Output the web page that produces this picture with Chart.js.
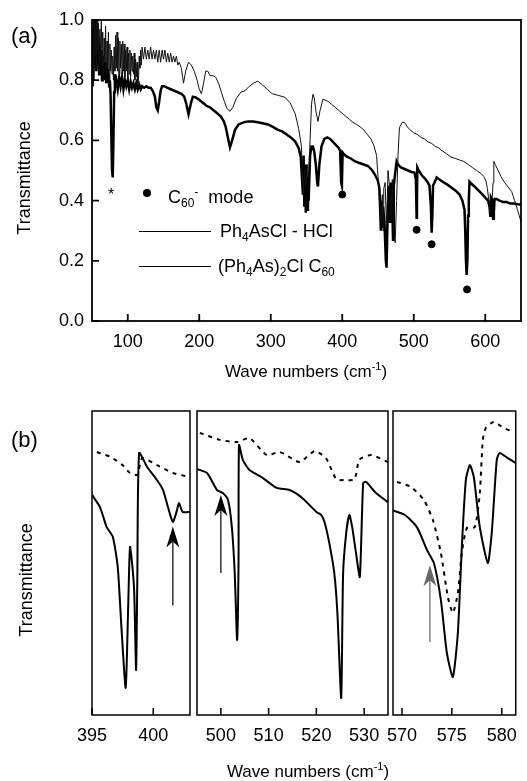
<!DOCTYPE html>
<html>
<head>
<meta charset="utf-8">
<script src="https://cdn.jsdelivr.net/npm/chart.js@4.4.0/dist/chart.umd.min.js"></script>
<style>
body { margin: 0; background: #fff; font-family: "Liberation Sans", Arial, sans-serif; }
#wrap { position: relative; width: 527px; height: 781px; overflow: hidden; }
canvas { position: absolute; left: 0; }
.t { position: absolute; white-space: nowrap; color: #000; line-height: 18px; }
.t sub { font-size: 12px; vertical-align: -4px; line-height: 0; }
.t sup { font-size: 12px; vertical-align: 7px; line-height: 0; }
.rot { position: absolute; white-space: nowrap; font-size: 18px; transform: translate(-50%, -50%) rotate(-90deg); }
.ctr { position: absolute; white-space: nowrap; font-size: 17px; transform: translate(-50%, -50%); }
.ctr sup { font-size: 11px; vertical-align: 7px; line-height: 0; }
.lg { position: absolute; height: 1px; background: #000; }
.dot { position: absolute; width: 8px; height: 8px; border-radius: 4px; background: #000; }
</style>
</head>
<body>
<div id="wrap">
  <canvas id="top" width="527" height="400" style="top:0"></canvas>
  <canvas id="p1" width="527" height="381" style="top:400px"></canvas>
  <canvas id="p2" width="527" height="381" style="top:400px"></canvas>
  <canvas id="p3" width="527" height="381" style="top:400px"></canvas>

  <div class="t" style="left:11px;top:25px;font-size:22px;line-height:22px">(a)</div>
  <div class="t" style="left:11px;top:429px;font-size:22px;line-height:22px">(b)</div>
  <div class="rot" style="left:24px;top:178px">Transmittance</div>
  <div class="rot" style="left:26px;top:580px">Transmittance</div>
  <div class="ctr" style="left:306px;top:372px">Wave numbers (cm<sup>-1</sup>)</div>
  <div class="ctr" style="left:308px;top:772px">Wave numbers (cm<sup>-1</sup>)</div>

  <div class="t" style="left:108px;top:186px;font-size:16px">*</div>
  <div class="dot" style="left:143px;top:189px"></div>
  <div class="t" style="left:168px;top:188px;font-size:18px">C<sub>60</sub><sup>-</sup>&nbsp;&nbsp;mode</div>
  <div class="lg" style="left:139px;top:231px;width:72px"></div>
  <div class="t" style="left:220px;top:222px;font-size:18px">Ph<sub>4</sub>AsCl - HCl</div>
  <div class="lg" style="left:139px;top:266px;width:72px"></div>
  <div class="t" style="left:218px;top:257px;font-size:18px">(Ph<sub>4</sub>As)<sub>2</sub>Cl C<sub>60</sub></div>
</div>

<script>
// panel (a) axes
var topTicksX = [100, 200, 300, 400, 500, 600];
var topTicksY = [0, 0.2, 0.4, 0.6, 0.8, 1.0];

// Ph4AsCl - HCl (thin line), [wave number, transmittance]
var hclSpectrum = [
  [50,0.86],[51,0.97],[52,0.78],[53,1.0],[54,0.88],[55,0.98],[56,0.84],[57,1.0],[58,0.9],[59,0.99],
  [60,0.83],[61,0.97],[62,0.87],[63,1.0],[64,0.85],[65,0.96],[66,0.8],[67,0.94],[68,0.86],[69,0.98],
  [70,0.82],[71,0.93],[72,0.84],[73,0.96],[74,0.8],[75,0.92],[76,0.83],[77,0.9],[78,0.82],[79,0.88],
  [80,0.8],[81,0.91],[82,0.83],[83,0.95],[84,0.84],[85,0.96],[86,0.83],[87,0.94],[88,0.82],[89,0.93],
  [90,0.84],[91,0.92],[92,0.82],[93,0.93],[94,0.83],[95,0.92],[96,0.81],[97,0.9],[98,0.83],[99,0.91],
  [100,0.8],[101,0.89],[102,0.82],[103,0.9],[104,0.81],[105,0.89],[106,0.83],[107,0.88],[108,0.82],[109,0.89],
  [110,0.8],[111,0.87],[112,0.81],[113,0.86],[114,0.79],[115,0.8],[116,0.88],[117,0.84],[118,0.9],[119,0.85],
  [120,0.91],[122,0.87],[124,0.91],[126,0.87],[128,0.9],[130,0.87],[132,0.91],[134,0.87],[136,0.9],[138,0.87],
  [140,0.9],[142,0.86],[144,0.9],[146,0.86],[148,0.9],[150,0.87],[152,0.9],[154,0.86],[156,0.89],[158,0.86],
  [160,0.89],[162,0.86],[164,0.88],[166,0.86],[168,0.88],[170,0.85],[172,0.86],[175,0.84],[178,0.79],[181,0.83],
  [185,0.86],[189,0.85],[193,0.83],[197,0.8],[200,0.77],[203,0.755],[206,0.79],[209,0.83],[212,0.83],[215,0.815],
  [219,0.815],[223,0.81],[227,0.79],[231,0.76],[235,0.73],[239,0.705],[243,0.697],[247,0.71],[252,0.74],[258,0.76],
  [264,0.765],[270,0.78],[276,0.79],[282,0.797],[288,0.785],[295,0.77],[302,0.755],[310,0.75],[320,0.743],[327,0.725],
  [334,0.69],[339,0.64],[343,0.58],[345,0.42],[347,0.5],[349,0.45],[351,0.52],[353,0.48],[355,0.6],[357,0.72],
  [359,0.753],[361,0.74],[363,0.7],[366,0.663],[369,0.7],[373,0.737],[380,0.73],[385,0.72],[390,0.71],[395,0.7],
  [400,0.69],[405,0.68],[410,0.67],[415,0.66],[420,0.653],[425,0.645],[430,0.635],[435,0.62],[440,0.605],[444,0.585],
  [448,0.55],[450,0.48],[452,0.4],[454,0.33],[456,0.42],[457,0.3],[458,0.44],[460,0.46],[462,0.3],[464,0.5],
  [466,0.45],[468,0.35],[470,0.47],[472,0.3],[474,0.26],[476,0.4],[478,0.55],[480,0.643],[484,0.66],[487,0.66],
  [491,0.645],[495,0.635],[500,0.625],[505,0.62],[510,0.61],[515,0.605],[520,0.595],[525,0.59],[530,0.58],[535,0.575],
  [540,0.565],[546,0.555],[552,0.545],[558,0.54],[564,0.535],[570,0.53],[576,0.52],[582,0.51],[588,0.5],[594,0.49],
  [598,0.48],[601,0.465],[603,0.44],[605,0.4],[607,0.36],[609,0.38],[611,0.46],[612,0.53],[614,0.52],[618,0.5],
  [622,0.48],[627,0.46],[632,0.445],[637,0.43],[641,0.4],[645,0.37],[650,0.33]
];

// (Ph4As)2Cl C60 (thick line)
var c60Spectrum = [
  [50,0.82],[51,0.96],[52,0.8],[53,1.0],[54,0.86],[55,1.0],[56,0.83],[57,0.97],[58,0.86],[59,0.95],
  [60,0.82],[61,0.92],[62,0.84],[63,0.9],[64,0.8],[65,0.88],[66,0.82],[67,0.86],[68,0.8],[69,0.85],
  [70,0.79],[71,0.84],[72,0.8],[73,0.82],[74,0.78],[75,0.8],[76,0.75],[77,0.62],[78,0.5],[79,0.477],
  [80,0.6],[81,0.76],[82,0.82],[83,0.79],[84,0.8],[86,0.77],[88,0.81],[90,0.78],[92,0.81],[94,0.77],
  [96,0.8],[98,0.78],[100,0.8],[102,0.77],[104,0.795],[106,0.775],[108,0.79],[110,0.77],[112,0.79],[114,0.77],
  [116,0.785],[118,0.77],[120,0.78],[123,0.775],[126,0.78],[129,0.775],[132,0.775],[135,0.765],[138,0.745],[140,0.71],
  [142,0.7],[144,0.73],[146,0.765],[148,0.78],[151,0.78],[155,0.775],[160,0.77],[165,0.765],[170,0.76],[175,0.755],
  [179,0.745],[182,0.72],[185,0.687],[188,0.72],[191,0.745],[195,0.743],[200,0.735],[205,0.725],[210,0.715],[215,0.71],
  [220,0.7],[225,0.69],[230,0.68],[234,0.665],[237,0.645],[240,0.61],[243,0.577],[246,0.6],[250,0.635],[255,0.653],
  [262,0.66],[268,0.663],[275,0.663],[282,0.66],[290,0.656],[296,0.653],[303,0.645],[310,0.635],[316,0.63],[322,0.62],
  [328,0.61],[334,0.597],[339,0.575],[342,0.545],[343,0.5],[345,0.42],[346,0.55],[347,0.38],[348,0.52],[349,0.36],
  [350,0.5],[351,0.37],[352,0.48],[353,0.4],[355,0.55],[357,0.58],[359,0.58],[361,0.56],[363,0.52],[365,0.46],
  [366,0.447],[368,0.52],[371,0.58],[375,0.605],[379,0.61],[383,0.605],[387,0.595],[391,0.585],[395,0.575],[397,0.565],
  [398.5,0.46],[399.5,0.45],[400.5,0.56],[402,0.555],[406,0.547],[412,0.54],[418,0.53],[424,0.525],[430,0.52],[436,0.515],
  [442,0.5],[446,0.485],[450,0.465],[452,0.44],[454,0.3],[455,0.4],[456,0.31],[457,0.38],[459,0.33],[461,0.2],
  [462,0.177],[463,0.3],[465,0.45],[467,0.33],[468,0.46],[470,0.38],[471,0.27],[472,0.45],[474,0.49],[476,0.53],
  [478,0.52],[482,0.51],[487,0.505],[492,0.5],[497,0.495],[501,0.493],[503,0.47],[504,0.343],[504.5,0.4],[505,0.51],
  [507,0.5],[511,0.485],[515,0.475],[519,0.463],[522,0.45],[524,0.38],[525,0.293],[526,0.35],[527,0.45],[529,0.46],
  [532,0.477],[536,0.47],[541,0.462],[547,0.453],[553,0.443],[559,0.432],[564,0.42],[568,0.4],[571,0.37],[572,0.3],
  [573,0.2],[574,0.153],[575,0.2],[576,0.35],[577,0.4],[578,0.463],[581,0.455],[585,0.447],[590,0.435],[595,0.423],
  [600,0.41],[604,0.4],[606,0.38],[607,0.35],[608,0.41],[610,0.4],[611,0.34],[612,0.36],[613,0.405],[616,0.405],
  [620,0.4],[625,0.395],[630,0.395],[635,0.39],[640,0.39],[645,0.388],[650,0.387]
];

// C60- mode markers
var c60Modes = [[400,0.42],[504,0.303],[525,0.255],[574.5,0.105]];

// panel (b): three zoomed windows
var p1Ticks = [395, 400];
var p2Ticks = [500, 510, 520, 530];
var p3Ticks = [570, 575, 580];

var p1Solid = [[395,0.724],[395.65,0.684],[396.2,0.618],[396.7,0.586],[397.1,0.487],[397.4,0.29],[397.75,0.089],[397.95,0.35],
  [398.1,0.553],[398.3,0.487],[398.45,0.4],[398.6,0.148],[398.7,0.45],[398.85,0.862],[399.5,0.816],[400.3,0.773],
  [400.8,0.74],[401.2,0.684],[401.6,0.635],[401.9,0.668],[402.1,0.697],[402.4,0.668],[403,0.668]];
var p1Dash = [[395.4,0.865],[396.5,0.849],[397.5,0.822],[398.1,0.796],[398.7,0.79],[399.1,0.845],[400.3,0.822],
  [401.6,0.796],[403,0.783]];

var p2Solid = [[495,0.809],[497.1,0.796],[499.2,0.74],[500.4,0.73],[501.5,0.707],[502.3,0.618],[502.9,0.467],[503.4,0.247],
  [503.7,0.5],[503.8,0.888],[504.6,0.839],[506,0.806],[508.75,0.78],[511.7,0.747],[514.4,0.74],[517.1,0.713],
  [520,0.668],[521,0.658],[521.7,0.635],[522.7,0.566],[523.75,0.467],[524.4,0.336],[525.2,0.056],[525.6,0.467],
  [526.25,0.599],[526.9,0.658],[527.5,0.618],[528.3,0.533],[529.1,0.454],[529.8,0.763],[530.4,0.767],[532.5,0.73],
  [535,0.7]];
var p2Dash = [[495.6,0.928],[499.8,0.905],[503.5,0.898],[506,0.911],[509.6,0.855],[512.3,0.865],[516.5,0.832],
  [519.6,0.868],[522,0.845],[524.2,0.775],[526,0.773],[528,0.775],[529,0.84],[531.5,0.855],[535,0.832]];

var p3Solid = [[569,0.674],[570.3,0.658],[571.5,0.618],[572.5,0.543],[573.2,0.5],[573.9,0.378],[574.5,0.204],[575.1,0.125],
  [575.6,0.27],[576,0.553],[576.4,0.773],[576.8,0.822],[577.2,0.783],[577.8,0.618],[578.6,0.5],[579,0.6],
  [579.5,0.839],[579.8,0.862],[580.6,0.845],[581.4,0.829]];
var p3Dash = [[569.5,0.767],[570.9,0.75],[572.2,0.707],[573.1,0.641],[573.9,0.533],[574.6,0.388],[575.1,0.336],
  [575.6,0.401],[576,0.533],[576.5,0.615],[577.3,0.618],[577.8,0.73],[578.1,0.905],[578.4,0.944],[579.2,0.964],
  [580.2,0.944],[581.2,0.931]];

// arrows: [wave number, tail, tip]
var p1Arrow = [401.6, 0.36, 0.62];
var p2Arrow = [500, 0.467, 0.724];
var p3Arrow = [572.8, 0.24, 0.493];

Chart.defaults.font.family = '"Liberation Sans", Arial, sans-serif';
Chart.defaults.font.size = 18;
Chart.defaults.color = '#000';

function pts(a) {
  return a.map(function (p) { return { x: p[0], y: p[1] }; });
}

// frame, inward ticks and arrows
var framePlugin = {
  id: 'frame',
  afterDatasetsDraw: function (chart, args, opts) {
    var c = chart.ctx, a = chart.chartArea;
    c.save();
    c.strokeStyle = '#000';
    c.lineWidth = opts.width || 1.5;
    c.strokeRect(a.left, a.top, a.right - a.left, a.bottom - a.top);
    c.beginPath();
    (opts.xTicks || []).forEach(function (v) {
      var px = chart.scales.x.getPixelForValue(v);
      c.moveTo(px, a.bottom); c.lineTo(px, a.bottom - 7);
    });
    (opts.yTicks || []).forEach(function (v) {
      var py = chart.scales.y.getPixelForValue(v);
      c.moveTo(a.left, py); c.lineTo(a.left + 7, py);
    });
    c.stroke();
    if (opts.arrow) {
      var ar = opts.arrow;
      var x = chart.scales.x.getPixelForValue(ar[0]);
      var y0 = chart.scales.y.getPixelForValue(ar[1]);
      var y1 = chart.scales.y.getPixelForValue(ar[2]);
      c.strokeStyle = opts.arrowColor || '#000';
      c.fillStyle = opts.arrowColor || '#000';
      c.lineWidth = 1.2;
      c.beginPath(); c.moveTo(x, y0); c.lineTo(x, y1 + 14); c.stroke();
      c.beginPath();
      c.moveTo(x, y1); c.lineTo(x - 6.5, y1 + 21); c.lineTo(x, y1 + 15); c.lineTo(x + 6.5, y1 + 21);
      c.closePath(); c.fill();
    }
    c.restore();
  }
};

new Chart(document.getElementById('top'), {
  type: 'scatter',
  data: {
    datasets: [
      { label: 'Ph4AsCl - HCl', data: pts(hclSpectrum), showLine: true, borderColor: '#111', borderWidth: 1, pointRadius: 0, tension: 0 },
      { label: '(Ph4As)2Cl C60', data: pts(c60Spectrum), showLine: true, borderColor: '#000', borderWidth: 2.5, pointRadius: 0, tension: 0 },
      { label: 'C60- mode', data: pts(c60Modes), backgroundColor: '#000', borderColor: '#000', pointRadius: 3.5 }
    ]
  },
  options: {
    responsive: false,
    animation: false,
    devicePixelRatio: 1,
    layout: { padding: { top: 20, right: 6, left: 0, bottom: 0 } },
    plugins: {
      legend: { display: false },
      tooltip: { enabled: false },
      frame: { xTicks: topTicksX, yTicks: topTicksY, width: 1.8 }
    },
    scales: {
      x: {
        type: 'linear', min: 50, max: 650,
        grid: { display: false, drawTicks: false },
        border: { display: false },
        afterBuildTicks: function (s) { s.ticks = topTicksX.map(function (v) { return { value: v }; }); },
        afterFit: function (s) { s.height = 79; },
        ticks: { padding: 10, maxRotation: 0, callback: function (v) { return v; } }
      },
      y: {
        min: 0, max: 1,
        grid: { display: false, drawTicks: false },
        border: { display: false },
        afterBuildTicks: function (s) { s.ticks = topTicksY.map(function (v) { return { value: v }; }); },
        afterFit: function (s) { s.width = 92; },
        ticks: { padding: 8, callback: function (v) { return v.toFixed(1); } }
      }
    }
  },
  plugins: [framePlugin]
});

function panel(id, xmin, xmax, left, right, ticks, solid, dash, arrow, arrowColor) {
  new Chart(document.getElementById(id), {
    type: 'scatter',
    data: {
      datasets: [
        { label: 'Ph4AsCl - HCl', data: pts(dash), showLine: true, borderColor: '#000', borderWidth: 2, borderDash: [4, 5], pointRadius: 0, tension: 0.2 },
        { label: '(Ph4As)2Cl C60', data: pts(solid), showLine: true, borderColor: '#000', borderWidth: 2, pointRadius: 0, tension: 0.2 }
      ]
    },
    options: {
      responsive: false,
      animation: false,
      devicePixelRatio: 1,
      layout: { padding: { top: 11, left: left, right: 527 - right, bottom: 0 } },
      plugins: {
        legend: { display: false },
        tooltip: { enabled: false },
        frame: { xTicks: ticks, arrow: arrow, arrowColor: arrowColor }
      },
      scales: {
        x: {
          type: 'linear', min: xmin, max: xmax,
          grid: { display: false, drawTicks: false },
          border: { display: false },
          afterBuildTicks: function (s) { s.ticks = ticks.map(function (v) { return { value: v }; }); },
          afterFit: function (s) { s.height = 66; },
          ticks: { padding: 10, maxRotation: 0, callback: function (v) { return v; } }
        },
        y: { min: 0, max: 1, display: false }
      }
    },
    plugins: [framePlugin]
  });
}

panel('p1', 395, 403, 92, 190, p1Ticks, p1Solid, p1Dash, p1Arrow, '#000');
panel('p2', 495, 535, 197, 388, p2Ticks, p2Solid, p2Dash, p2Arrow, '#000');
panel('p3', 569.1, 581.4, 393, 525, p3Ticks, p3Solid, p3Dash, p3Arrow, '#666');
</script>
</body>
</html>
